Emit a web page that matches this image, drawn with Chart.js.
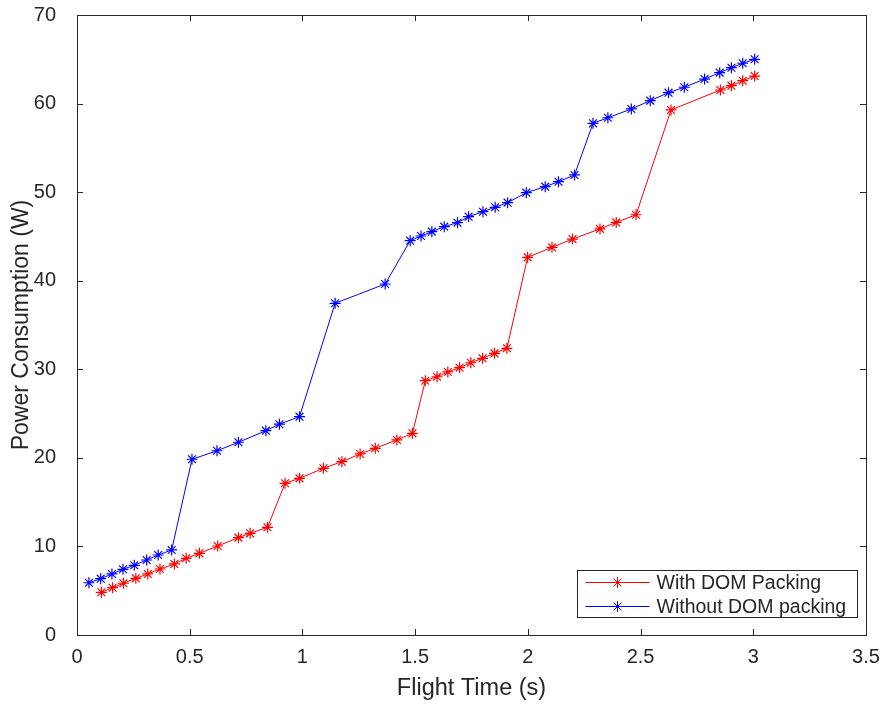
<!DOCTYPE html>
<html lang="en">
<head>
    <meta charset="UTF-8">
    <title>Power Consumption vs Flight Time</title>
    <style>
        body {
            margin: 0;
            background: #ffffff;
        }
        #powerChart {
            display: block;
        }
    </style>
    <script src="https://cdn.jsdelivr.net/npm/chart.js"></script>
</head>
<body>
    <canvas id="powerChart" width="885" height="707"></canvas>

    <script>
        // Flight time (s) and power (W) for both packing modes
        const withTime = [0.108, 0.158, 0.206, 0.261, 0.314, 0.368, 0.432, 0.484, 0.543, 0.624,
                          0.716, 0.768, 0.845, 0.923, 0.987, 1.093, 1.175, 1.256, 1.323, 1.419,
                          1.488, 1.545, 1.597, 1.645, 1.697, 1.747, 1.799, 1.852, 1.907, 1.999,
                          2.107, 2.198, 2.320, 2.392, 2.480, 2.635, 2.854, 2.903, 2.953, 3.006];
        const withPower = [4.82, 5.34, 5.84, 6.40, 6.89, 7.45, 8.02, 8.66, 9.22, 10.05,
                           10.99, 11.48, 12.16, 17.13, 17.69, 18.82, 19.57, 20.44, 21.08, 22.02,
                           22.77, 28.71, 29.16, 29.70, 30.18, 30.74, 31.24, 31.80, 32.37, 42.64,
                           43.77, 44.70, 45.85, 46.58, 47.45, 59.28, 61.53, 62.02, 62.58, 63.11];

        const withoutTime = [0.053, 0.105, 0.155, 0.204, 0.254, 0.309, 0.360, 0.420, 0.510, 0.621,
                             0.716, 0.838, 0.898, 0.987, 1.145, 1.367, 1.478, 1.526, 1.574, 1.629,
                             1.688, 1.737, 1.801, 1.855, 1.910, 1.993, 2.077, 2.136, 2.207, 2.289,
                             2.355, 2.459, 2.543, 2.624, 2.694, 2.784, 2.851, 2.903, 2.953, 3.006];
        const withoutPower = [5.90, 6.36, 6.89, 7.42, 7.87, 8.47, 9.03, 9.60, 19.84, 20.80,
                              21.76, 23.07, 23.80, 24.65, 37.45, 39.63, 44.52, 45.05, 45.54, 46.10,
                              46.55, 47.23, 47.79, 48.29, 48.81, 49.94, 50.62, 51.18, 51.94, 57.77,
                              58.40, 59.39, 60.33, 61.23, 61.84, 62.77, 63.49, 64.05, 64.55, 65.00];

        const seriesLabels = ['With DOM Packing', 'Without DOM packing'];
        const xTicks = [0, 0.5, 1, 1.5, 2, 2.5, 3, 3.5];
        const yTicks = [0, 10, 20, 30, 40, 50, 60, 70];

        const axisColor = '#262626';
        const fontFamily = '"Liberation Sans", Arial, sans-serif';

        function toPoints(xs, ys) {
            return xs.map((x, i) => ({ x: x, y: ys[i] }));
        }

        // Small asterisk like the line markers
        function drawStar(ctx, x, y, r) {
            ctx.beginPath();
            for (let k = 0; k < 4; k++) {
                const a = k * Math.PI / 4;
                ctx.moveTo(x - r * Math.cos(a), y - r * Math.sin(a));
                ctx.lineTo(x + r * Math.cos(a), y + r * Math.sin(a));
            }
            ctx.stroke();
        }

        // Box around the plot with inward tick marks on every side
        const boxPlugin = {
            id: 'boxAxes',
            afterDatasetsDraw(chart) {
                const { ctx, chartArea: a, scales } = chart;
                const len = 6;
                ctx.save();
                ctx.strokeStyle = axisColor;
                ctx.lineWidth = 1;
                ctx.strokeRect(Math.round(a.left) + 0.5, Math.round(a.top) + 0.5,
                    Math.round(a.right - a.left), Math.round(a.bottom - a.top));
                ctx.beginPath();
                xTicks.forEach(v => {
                    const px = Math.round(scales.x.getPixelForValue(v)) + 0.5;
                    ctx.moveTo(px, a.bottom);
                    ctx.lineTo(px, a.bottom - len);
                    ctx.moveTo(px, a.top);
                    ctx.lineTo(px, a.top + len);
                });
                yTicks.forEach(v => {
                    const py = Math.round(scales.y.getPixelForValue(v)) + 0.5;
                    ctx.moveTo(a.left, py);
                    ctx.lineTo(a.left + len, py);
                    ctx.moveTo(a.right, py);
                    ctx.lineTo(a.right - len, py);
                });
                ctx.stroke();
                ctx.restore();
            }
        };

        // Legend box in the lower right corner of the plot
        const legendPlugin = {
            id: 'cornerLegend',
            afterDraw(chart) {
                const { ctx, chartArea: a } = chart;
                const boxW = 280, boxH = 47;
                const left = Math.round(a.right - 9 - boxW) + 0.5;
                const top = Math.round(a.bottom - 18 - boxH) + 0.5;
                ctx.save();
                ctx.fillStyle = '#ffffff';
                ctx.fillRect(left, top, boxW, boxH);
                ctx.strokeStyle = axisColor;
                ctx.lineWidth = 1;
                ctx.strokeRect(left, top, boxW, boxH);
                ctx.font = '19.5px ' + fontFamily;
                ctx.textBaseline = 'middle';
                chart.data.datasets.forEach((ds, i) => {
                    const y = top + 12 + i * 24;
                    ctx.strokeStyle = ds.borderColor;
                    ctx.beginPath();
                    ctx.moveTo(left + 8, y);
                    ctx.lineTo(left + 72, y);
                    ctx.stroke();
                    drawStar(ctx, left + 40, y, 5.5);
                    ctx.fillStyle = axisColor;
                    ctx.fillText(ds.label, left + 79, y + 1);
                });
                ctx.restore();
            }
        };

        const ctx = document.getElementById('powerChart').getContext('2d');
        const powerChart = new Chart(ctx, {
            type: 'line',
            data: {
                datasets: [{
                    label: seriesLabels[0],
                    data: toPoints(withTime, withPower),
                    borderColor: '#ff0000',
                    backgroundColor: '#ff0000',
                    borderWidth: 1,
                    pointStyle: 'star',
                    pointRadius: 5.5,
                    pointBorderWidth: 1.2,
                    pointBorderColor: '#ff0000',
                    fill: false,
                    tension: 0
                }, {
                    label: seriesLabels[1],
                    data: toPoints(withoutTime, withoutPower),
                    borderColor: '#0000ff',
                    backgroundColor: '#0000ff',
                    borderWidth: 1,
                    pointStyle: 'star',
                    pointRadius: 5.5,
                    pointBorderWidth: 1.2,
                    pointBorderColor: '#0000ff',
                    fill: false,
                    tension: 0
                }]
            },
            options: {
                responsive: false,
                animation: false,
                layout: {
                    padding: { left: 0, top: 15, right: 19, bottom: 0 }
                },
                plugins: {
                    legend: { display: false },
                    tooltip: { enabled: false }
                },
                scales: {
                    x: {
                        type: 'linear',
                        min: 0,
                        max: 3.5,
                        grid: { display: false, drawTicks: false },
                        border: { display: false },
                        afterBuildTicks: scale => {
                            scale.ticks = xTicks.map(v => ({ value: v }));
                        },
                        afterFit: scale => {
                            scale.height = 72;
                            scale.paddingLeft = 0;
                            scale.paddingRight = 0;
                        },
                        ticks: {
                            color: axisColor,
                            padding: 10,
                            maxRotation: 0,
                            callback: v => String(v),
                            font: { family: fontFamily, size: 20 }
                        },
                        title: {
                            display: true,
                            text: 'Flight Time (s)',
                            color: axisColor,
                            padding: { top: 0, bottom: 4 },
                            font: { family: fontFamily, size: 23.5 }
                        }
                    },
                    y: {
                        type: 'linear',
                        min: 0,
                        max: 70,
                        grid: { display: false, drawTicks: false },
                        border: { display: false },
                        afterBuildTicks: scale => {
                            scale.ticks = yTicks.map(v => ({ value: v }));
                        },
                        afterFit: scale => {
                            scale.width = 77;
                            scale.paddingTop = 0;
                            scale.paddingBottom = 0;
                        },
                        ticks: {
                            color: axisColor,
                            padding: 21,
                            font: { family: fontFamily, size: 20 }
                        },
                        title: {
                            display: true,
                            text: 'Power Consumption (W)',
                            color: axisColor,
                            padding: { top: 8, bottom: 0 },
                            font: { family: fontFamily, size: 23 }
                        }
                    }
                }
            },
            plugins: [boxPlugin, legendPlugin]
        });
    </script>
</body>
</html>
